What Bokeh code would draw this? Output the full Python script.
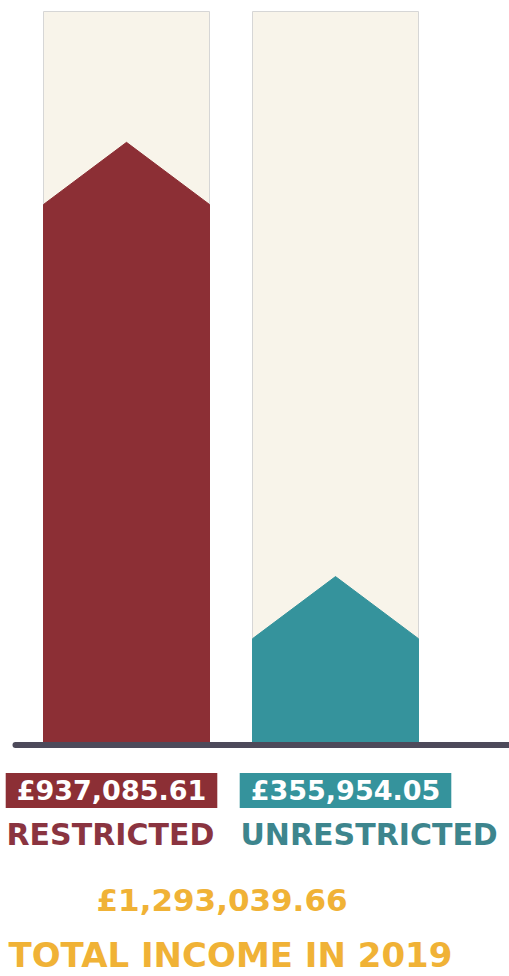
from bokeh.plotting import figure
from bokeh.models import Range1d, Label
from bokeh.embed import file_html
from bokeh.resources import INLINE

# ---- data ----
categories = ["RESTRICTED", "UNRESTRICTED"]
amount_labels = ["£937,085.61", "£355,954.05"]
# arrow tip level, in % of the column height
level_pct = [82.1, 22.7]
total_label = "£1,293,039.66"
total_title = "TOTAL INCOME IN 2019"

bar_colors = ["#8c2f35", "#35939c"]
text_colors = ["#8a3440", "#3d858d"]
gold = "#f0b236"
cream = "#f8f4ea"
base_col = "#4d4a5a"

W, H = 509, 976
px_per_x = 209.0          # pixel distance between the two columns
x0_px = 126.0             # pixel position of first column centre
px_per_y = 7.31           # pixels per percent
base_px = 742.0           # baseline position from top, px

p = figure(width=W, height=H, output_backend="svg", toolbar_location=None,
           min_border=0, x_axis_type=None, y_axis_type=None)
p.x_range = Range1d(-x0_px / px_per_x, (W - x0_px) / px_per_x)
ytop = base_px / px_per_y
p.y_range = Range1d(ytop - H / px_per_y, ytop)
p.grid.visible = False
p.outline_line_color = None
p.background_fill_color = "white"
p.border_fill_color = "white"

bw = 166.0 / px_per_x
tip = 8.5
xs_c = list(range(len(categories)))

# background tracks
p.quad(left=[x - bw / 2 for x in xs_c], right=[x + bw / 2 for x in xs_c],
       bottom=[0] * len(xs_c), top=[100] * len(xs_c),
       fill_color=cream, line_color="#d6d6d6", line_width=1)

# arrow shaped bars
pxs, pys = [], []
for x, lv in zip(xs_c, level_pct):
    pxs.append([x - bw / 2, x - bw / 2, x, x + bw / 2, x + bw / 2])
    pys.append([0, lv - tip, lv, lv - tip, 0])
p.patches(pxs, pys, fill_color=bar_colors, line_color=bar_colors, line_width=1)

# baseline
p.line([p.x_range.start + 15 / px_per_x, p.x_range.end + 1],
       [-2.5 / px_per_y, -2.5 / px_per_y],
       line_color=base_col, line_width=6, line_cap="round")

FONT = "DejaVu Sans"

# amount labels (white on coloured box)
box_cx = [111, 345]
for cx, txt, col in zip(box_cx, amount_labels, bar_colors):
    p.add_layout(Label(x=cx, y=186, x_units="screen", y_units="screen", text=txt,
                       text_align="center", text_baseline="middle",
                       text_font=FONT, text_font_style="bold", text_font_size="27px",
                       text_color="white", background_fill_color=col,
                       padding=dict(left=11, right=11, top=2, bottom=2)))

# category labels
cat_x = [6, 240]
for cx, txt, col in zip(cat_x, categories, text_colors):
    p.add_layout(Label(x=cx, y=142, x_units="screen", y_units="screen", text=txt,
                       text_align="left", text_baseline="middle",
                       text_font=FONT, text_font_style="bold", text_font_size="30px",
                       text_color=col))

p.add_layout(Label(x=96, y=77, x_units="screen", y_units="screen", text=total_label,
                   text_align="left", text_baseline="middle",
                   text_font=FONT, text_font_style="bold", text_font_size="31px",
                   text_color=gold))
p.add_layout(Label(x=8, y=22, x_units="screen", y_units="screen", text=total_title,
                   text_align="left", text_baseline="middle",
                   text_font=FONT, text_font_style="bold", text_font_size="34px",
                   text_color=gold))

open("out.html", "w").write(file_html(p, INLINE))
